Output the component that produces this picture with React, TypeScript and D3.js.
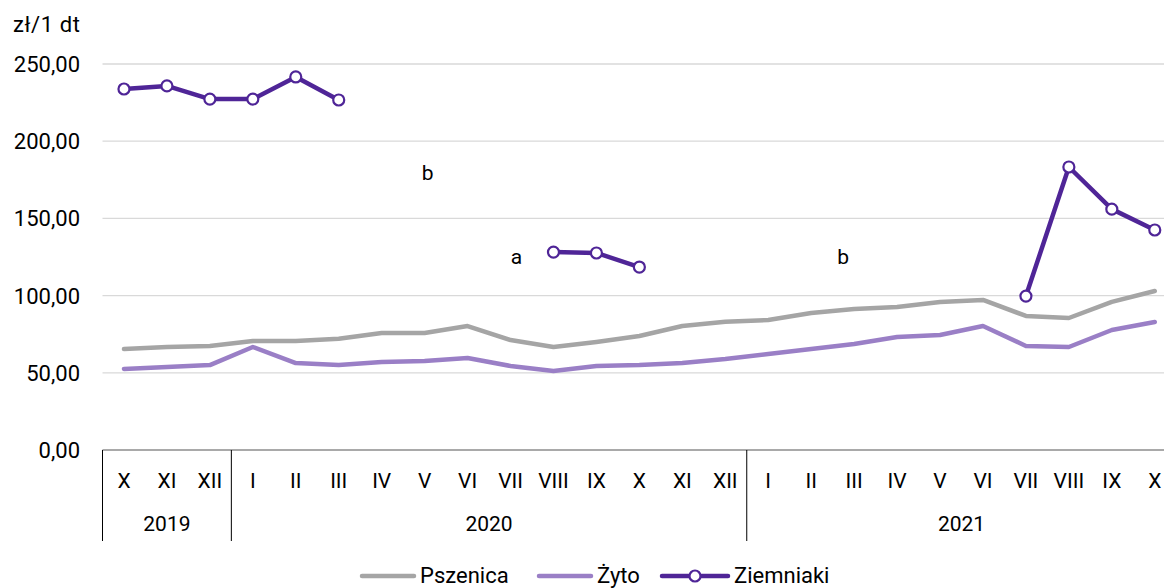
import React, { useEffect, useRef } from 'react';
import * as d3 from 'd3';

const months = ['X', 'XI', 'XII', 'I', 'II', 'III', 'IV', 'V', 'VI', 'VII', 'VIII', 'IX', 'X', 'XI', 'XII',
  'I', 'II', 'III', 'IV', 'V', 'VI', 'VII', 'VIII', 'IX', 'X'];
const years = [
  { label: '2019', start: 0, count: 3 },
  { label: '2020', start: 3, count: 12 },
  { label: '2021', start: 15, count: 10 },
];
const pszenica = [65.4, 66.7, 67.4, 70.6, 70.6, 72.0, 75.8, 75.8, 80.3, 71.2, 66.7, 70.0, 73.8, 80.3, 83.0,
  84.2, 88.7, 91.3, 92.6, 95.9, 97.2, 86.8, 85.5, 95.9, 103.0];
const zyto = [52.5, 53.8, 55.0, 66.7, 56.3, 55.0, 57.0, 57.6, 59.6, 54.4, 51.2, 54.4, 55.0, 56.3, 58.9,
  62.2, 65.4, 68.7, 73.2, 74.5, 80.3, 67.4, 66.7, 77.7, 82.9];
const ziemniaki: (number | null)[] = [233.8, 235.8, 227.3, 227.3, 241.6, 226.7, null, null, null, null, 128.2, 127.6, 118.5, null, null,
  null, null, null, null, null, null, 99.7, 183.3, 156.0, 142.5];
const yTicks = [0, 50, 100, 150, 200, 250];
const notes = [
  { text: 'b', idx: 7, dx: 3, value: 175 },
  { text: 'a', idx: 9, dx: 6, value: 120.5 },
  { text: 'b', idx: 17, dx: -11, value: 120.5 },
];

const FONT = '"Roboto", "Noto Sans", sans-serif';

const App = () => {
  const ref = useRef<SVGSVGElement>(null);

  useEffect(() => {
    const svg = d3.select(ref.current);
    svg.selectAll('*').remove();

    const left = 102.5, top = 64, band = 42.95;
    const x = d3.scaleBand<number>().domain(d3.range(months.length)).range([left, left + band * months.length]);
    const y = d3.scaleLinear().domain([0, 250]).range([450, top]);
    const cx = (i: number) => x(i)! + x.bandwidth() / 2;

    // grid
    svg.append('g').selectAll('line').data(yTicks.filter(d => d > 0)).enter().append('line')
      .attr('x1', left).attr('x2', 1164).attr('y1', d => y(d)).attr('y2', d => y(d))
      .attr('stroke', '#d9d9d9').attr('stroke-width', 1.3);

    svg.append('g').selectAll('text').data(yTicks).enter().append('text')
      .attr('x', 80).attr('y', d => y(d) + 8).attr('text-anchor', 'end')
      .attr('font-family', FONT).attr('font-size', 22).attr('fill', '#000')
      .text(d => d3.format('.2f')(d).replace('.', ','));

    svg.append('text').attr('x', 13).attr('y', 32).attr('font-family', FONT).attr('font-size', 22)
      .attr('letter-spacing', 0.6).text('zł/1 dt');

    // axis
    svg.append('line').attr('x1', left).attr('x2', 1164).attr('y1', y(0)).attr('y2', y(0))
      .attr('stroke', '#8c8c8c').attr('stroke-width', 1.5);
    const dividers = [left, ...years.slice(1).map(yr => x(yr.start)!)];
    svg.append('g').selectAll('line').data(dividers).enter().append('line')
      .attr('x1', d => d).attr('x2', d => d).attr('y1', y(0)).attr('y2', 541)
      .attr('stroke', '#000').attr('stroke-width', 1);

    svg.append('g').selectAll('text').data(months).enter().append('text')
      .attr('x', (_, i) => cx(i)).attr('y', 488).attr('text-anchor', 'middle')
      .attr('font-family', FONT).attr('font-size', 21).text(d => d);

    svg.append('g').selectAll('text').data(years).enter().append('text')
      .attr('x', d => x(d.start)! + band * d.count / 2)
      .attr('y', 531).attr('text-anchor', 'middle')
      .attr('font-family', FONT).attr('font-size', 21).text(d => d.label);

    const line = d3.line<number | null>()
      .defined(d => d !== null)
      .x((_, i) => cx(i)).y(d => y(d as number));

    svg.append('path').datum(pszenica).attr('d', line as any).attr('fill', 'none')
      .attr('stroke', '#a5a5a5').attr('stroke-width', 4.5).attr('stroke-linejoin', 'round').attr('stroke-linecap', 'round');
    svg.append('path').datum(zyto).attr('d', line as any).attr('fill', 'none')
      .attr('stroke', '#9a7fc6').attr('stroke-width', 4.5).attr('stroke-linejoin', 'round').attr('stroke-linecap', 'round');
    svg.append('path').datum(ziemniaki).attr('d', line).attr('fill', 'none')
      .attr('stroke', '#4f2597').attr('stroke-width', 4.5).attr('stroke-linejoin', 'round').attr('stroke-linecap', 'round');
    svg.append('g').selectAll('circle')
      .data(ziemniaki.map((v, i) => ({ v, i })).filter(d => d.v !== null)).enter().append('circle')
      .attr('cx', d => cx(d.i)).attr('cy', d => y(d.v as number)).attr('r', 5.5)
      .attr('fill', '#fff').attr('stroke', '#4f2597').attr('stroke-width', 2.2);

    svg.append('g').selectAll('text').data(notes).enter().append('text')
      .attr('x', d => cx(d.idx) + d.dx).attr('y', d => y(d.value)).attr('text-anchor', 'middle')
      .attr('font-family', FONT).attr('font-size', 21).text(d => d.text);

    // legend
    const legend = [
      { name: 'Pszenica', color: '#a5a5a5', x0: 362, marker: false },
      { name: 'Żyto', color: '#9a7fc6', x0: 539, marker: false },
      { name: 'Ziemniaki', color: '#4f2597', x0: 662, marker: true },
    ];
    const lg = svg.append('g').selectAll('g').data(legend).enter().append('g');
    lg.append('line').attr('x1', d => d.x0).attr('x2', d => d.x0 + (d.marker ? 66 : 52))
      .attr('y1', 576).attr('y2', 576).attr('stroke', d => d.color).attr('stroke-width', 4.5)
      .attr('stroke-linecap', 'round');
    lg.filter(d => d.marker).append('circle').attr('cx', d => d.x0 + 33).attr('cy', 576).attr('r', 5.5)
      .attr('fill', '#fff').attr('stroke', d => d.color).attr('stroke-width', 2.2);
    lg.append('text').attr('x', d => d.x0 + (d.marker ? 72 : 58)).attr('y', 583)
      .attr('font-family', FONT).attr('font-size', 22).text(d => d.name);
  }, []);

  return <svg ref={ref} width={1164} height={588} style={{ position: 'absolute', left: 0, top: 0, background: '#fff' }}></svg>;
};

export default App;
